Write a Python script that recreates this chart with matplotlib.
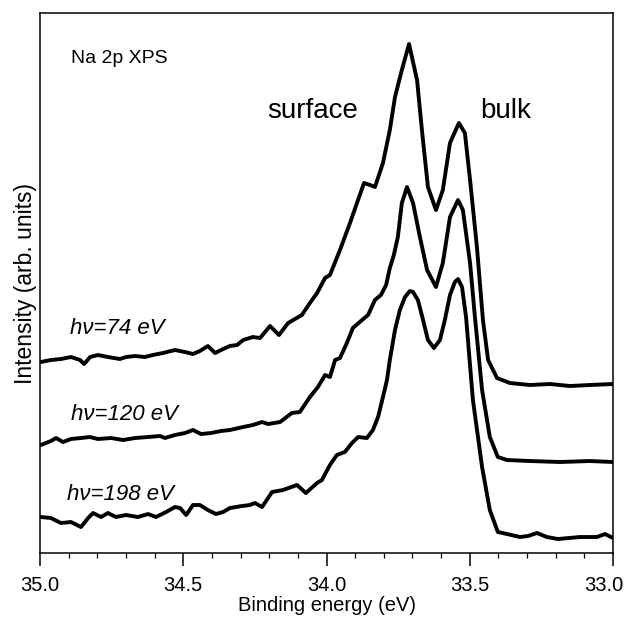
import matplotlib
matplotlib.use("Agg")
import matplotlib.pyplot as plt
from matplotlib.ticker import MultipleLocator
from matplotlib.transforms import ScaledTranslation

plt.rcParams['font.family'] = ['Liberation Sans', 'DejaVu Sans']

# binding energy (eV) and intensity (arb. units)
e_74 = [34.997, 34.962, 34.927, 34.892, 34.860, 34.846, 34.825, 34.798, 34.763, 34.721,
        34.700, 34.668, 34.634, 34.606, 34.571, 34.529, 34.494, 34.466, 34.442, 34.414,
        34.389, 34.361, 34.337, 34.312, 34.291, 34.257, 34.232, 34.197, 34.166, 34.134,
        34.086, 34.058, 34.033, 34.005, 33.988, 33.967, 33.953, 33.918, 33.890, 33.869,
        33.848, 33.831, 33.803, 33.779, 33.761, 33.737, 33.712, 33.684, 33.667, 33.646,
        33.618, 33.594, 33.569, 33.538, 33.517, 33.499, 33.475, 33.454, 33.436, 33.405,
        33.360, 33.290, 33.220, 33.150, 33.081, 33.000]
i_74 = [191, 193, 194, 196, 193, 189, 196, 198, 196, 194,
        196, 197, 196, 198, 200, 203, 201, 199, 202, 207,
        200, 204, 207, 208, 213, 216, 215, 227, 218, 230,
        238, 250, 260, 275, 278, 293, 303, 330, 353, 370,
        368, 366, 390, 423, 456, 483, 509, 473, 423, 366,
        343, 363, 410, 430, 420, 373, 306, 233, 193, 175,
        170, 168, 169, 167, 168, 169]

e_120 = [34.997, 34.962, 34.944, 34.920, 34.892, 34.857, 34.826, 34.798, 34.752, 34.710,
         34.668, 34.623, 34.581, 34.564, 34.529, 34.494, 34.466, 34.438, 34.403, 34.368,
         34.337, 34.291, 34.257, 34.225, 34.204, 34.162, 34.121, 34.093, 34.058, 34.030,
         34.005, 33.988, 33.970, 33.953, 33.929, 33.908, 33.876, 33.855, 33.831, 33.810,
         33.792, 33.779, 33.765, 33.751, 33.737, 33.719, 33.698, 33.674, 33.649, 33.618,
         33.594, 33.569, 33.541, 33.524, 33.499, 33.482, 33.457, 33.430, 33.402, 33.370,
         33.290, 33.185, 33.081, 33.000]
i_120 = [108, 112, 115, 111, 114, 115, 116, 114, 115, 113,
         115, 116, 117, 115, 118, 120, 123, 119, 120, 122,
         123, 126, 128, 131, 129, 131, 140, 141, 156, 166,
         178, 176, 193, 195, 210, 225, 233, 238, 253, 258,
         268, 285, 298, 316, 350, 366, 350, 316, 283, 266,
         290, 336, 353, 343, 290, 236, 163, 116, 96, 93,
         92, 91, 92, 91]

e_198 = [34.997, 34.962, 34.927, 34.892, 34.857, 34.832, 34.815, 34.787, 34.763, 34.735,
         34.700, 34.658, 34.623, 34.595, 34.560, 34.529, 34.511, 34.490, 34.466, 34.442,
         34.414, 34.386, 34.361, 34.337, 34.295, 34.267, 34.250, 34.225, 34.190, 34.152,
         34.103, 34.072, 34.033, 34.016, 33.988, 33.964, 33.936, 33.911, 33.890, 33.859,
         33.838, 33.820, 33.803, 33.789, 33.779, 33.761, 33.744, 33.726, 33.709, 33.698,
         33.681, 33.663, 33.646, 33.625, 33.604, 33.587, 33.569, 33.552, 33.541, 33.527,
         33.513, 33.489, 33.457, 33.430, 33.402, 33.370, 33.325, 33.297, 33.265, 33.231,
         33.192, 33.115, 33.056, 33.028, 33.000]
i_198 = [36, 35, 30, 31, 26, 35, 40, 36, 40, 36,
         38, 36, 39, 36, 41, 46, 45, 38, 48, 48,
         43, 39, 41, 45, 47, 48, 50, 46, 61, 63,
         68, 60, 70, 73, 88, 98, 101, 110, 116, 115,
         123, 136, 156, 173, 193, 223, 243, 256, 262, 261,
         253, 233, 213, 205, 213, 233, 258, 271, 274, 266,
         236, 153, 86, 43, 21, 19, 16, 17, 20, 16,
         14, 16, 16, 19, 15]

xticks = [35.0, 34.5, 34.0, 33.5, 33.0]
xtick_labels = ['35.0', '34.5', '34.0', '33.5', '33.0']

fig = plt.figure(figsize=(6.24, 6.19), dpi=100)
ax = fig.add_axes([0.0641, 0.1066, 0.9183, 0.8724])

for e, inten in [(e_74, i_74), (e_120, i_120), (e_198, i_198)]:
    ax.plot(e, inten, color='black', lw=2.8, solid_joinstyle='round', solid_capstyle='round')

ax.set_xlim(35.0, 33.0)
ax.set_ylim(0, 540)
ax.set_xticks(xticks, xtick_labels)
ax.xaxis.set_minor_locator(MultipleLocator(0.1))
ax.tick_params(axis='x', which='major', direction='out', length=9.5, width=1.1,
               labelsize=14.5, pad=7)
ax.tick_params(axis='x', which='minor', direction='out', length=3.8, width=0.9)
ax.set_yticks([])
for s in ax.spines.values():
    s.set_linewidth(1.1)

ax.set_xlabel('Binding energy (eV)', fontsize=14.5, labelpad=1)
ax.set_ylabel('Intensity (arb. units)', fontsize=16.5, labelpad=2)

ax.text(34.892, 490, 'Na 2p XPS', fontsize=14, va='baseline')
ax.text(34.208, 435, 'surface', fontsize=20, va='baseline')
ax.text(33.464, 435, 'bulk', fontsize=20, va='baseline')
ax.text(34.895, 219, 'h\u03bd=74 eV', fontsize=16, style='italic', va='baseline')
ax.text(34.892, 133, 'h\u03bd=120 eV', fontsize=16, style='italic', va='baseline')
ax.text(34.906, 53, 'h\u03bd=198 eV', fontsize=16, style='italic', va='baseline')

# keep the last tick label inside the figure
last = ax.xaxis.get_major_ticks()[-1].label1
last.set_transform(last.get_transform() + ScaledTranslation(-9 / 100, 0, fig.dpi_scale_trans))

fig.savefig('out.png', dpi=100)
